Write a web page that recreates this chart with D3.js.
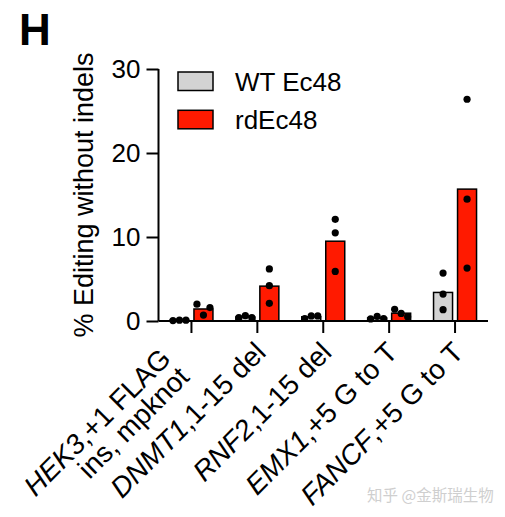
<!DOCTYPE html>
<html><head><meta charset="utf-8">
<script src="https://cdn.jsdelivr.net/npm/d3@7"></script>
<style>
html,body{margin:0;padding:0;background:#fff;}
svg{display:block;font-family:"Liberation Sans",Arial,sans-serif;}
</style></head>
<body><svg id="c" width="505" height="517"></svg>
<script>
// ---- data ----
const categories = ["HEK3", "DNMT1", "RNF2", "EMX1", "FANCF"];
const labelGene = ["HEK3", "DNMT1", "RNF2", "EMX1", "FANCF"];
const labelRest = [",+1 FLAG", ",1-15 del", ",1-15 del", ",+5 G to T", ",+5 G to T"];
const labelLine2 = ["ins, mpknot", "", "", "", ""];
const seriesNames = ["WT Ec48", "rdEc48"];
const wtMeans = [0.08, 0.48, 0.5, 0.37, 3.4];
const rdMeans = [1.43, 4.15, 9.5, 0.93, 15.7];
const wtReps = [[0.05, 0.1, 0.1], [0.4, 0.63, 0.4], [0.3, 0.6, 0.6], [0.25, 0.55, 0.3], [5.7, 3.2, 1.35]];
const rdReps = [[2.0, 0.7, 1.6], [6.2, 4.2, 2.1], [12.1, 10.5, 5.9], [1.4, 0.9, 0.5], [26.4, 14.5, 6.3]];
const yTicks = [0, 10, 20, 30];
const colors = ["#d3d3d3", "#ff1a00"];

// ---- layout ----
const svg = d3.select("#c");
const pLeft = 158.5, pRight = 488, pTop = 69, pBottom = 321;
const x = d3.scaleBand().domain(categories).range([pLeft, pRight]).padding(0);
const xi = d3.scaleBand().domain(seriesNames).range([-21.5, 21.5]).paddingInner(5/24).paddingOuter(0);
const y = d3.scaleLinear().domain([0, 30]).range([pBottom, pTop]);
const color = d3.scaleOrdinal().domain(seriesNames).range(colors);

const means = [wtMeans, rdMeans];
const reps = [wtReps, rdReps];

// bars
categories.forEach((c, i) => {
  seriesNames.forEach((s, k) => {
    const cx = x(c) + x.bandwidth() / 2;
    svg.append("rect")
      .attr("x", cx + xi(s))
      .attr("y", y(means[k][i]))
      .attr("width", xi.bandwidth())
      .attr("height", y(0) - y(means[k][i]))
      .attr("fill", color(s))
      .attr("stroke", "#000")
      .attr("stroke-width", 1.5);
  });
});

// dots
const r = 3.6, spread = 6.5;
categories.forEach((c, i) => {
  seriesNames.forEach((s, k) => {
    const cx = x(c) + x.bandwidth() / 2 + xi(s) + xi.bandwidth() / 2;
    const vals = reps[k][i];
    const py = vals.map(v => y(v));
    let overlap = false;
    for (let a = 0; a < py.length; a++) for (let b = a + 1; b < py.length; b++)
      if (Math.abs(py[a] - py[b]) < 2 * r) overlap = true;
    vals.forEach((v, j) => {
      svg.append("circle")
        .attr("cx", cx + (overlap ? (j - 1) * spread : 0))
        .attr("cy", y(v))
        .attr("r", r)
        .attr("fill", "#000");
    });
  });
});

// y axis
const yAxis = svg.append("g").attr("transform", `translate(${pLeft},0)`)
  .call(d3.axisLeft(y).tickValues(yTicks).tickSize(12).tickPadding(6).tickFormat(d3.format("d")));
yAxis.select(".domain").attr("stroke-width", 2).attr("d", `M0,${pTop}V${pBottom}`);
yAxis.selectAll(".tick line").attr("stroke-width", 2);
yAxis.selectAll(".tick text").attr("font-size", 26).attr("fill", "#000")
  .attr("font-family", "Liberation Sans, Arial, sans-serif");

// x axis
const xAxis = svg.append("g").attr("transform", `translate(0,${pBottom})`)
  .call(d3.axisBottom(x).tickSize(12).tickFormat(""));
xAxis.select(".domain").attr("stroke-width", 2).attr("d", `M${pLeft},0H${pRight}`);
xAxis.selectAll(".tick line").attr("stroke-width", 2);

// x labels
categories.forEach((c, i) => {
  const cx = x(c) + x.bandwidth() / 2;
  const g = svg.append("g").attr("transform", `translate(${cx + 10},${pBottom + 33}) rotate(-45)`);
  const two = labelLine2[i] !== "";
  const t = g.append("text").attr("text-anchor", "end").attr("font-size", 28).attr("fill", "#000")
    .attr("x", two ? -25 : 0).attr("y", two ? -16 : 0);
  t.append("tspan").attr("font-style", "italic").text(labelGene[i]);
  t.append("tspan").text(labelRest[i]);
  if (two) {
    g.append("text").attr("text-anchor", "end").attr("font-size", 28).attr("fill", "#000")
      .attr("x", -25).attr("y", 10).text(labelLine2[i]);
  }
});

// y title
svg.append("text").attr("transform", `translate(93,${(pTop + pBottom) / 2}) rotate(-90)`)
  .attr("text-anchor", "middle").attr("font-size", 27).attr("fill", "#000")
  .text("% Editing without indels");

// panel letter
svg.append("text").attr("x", 19).attr("y", 45).attr("font-size", 44).attr("font-weight", "bold")
  .attr("fill", "#000").text("H");

// legend
const leg = svg.append("g");
seriesNames.forEach((s, k) => {
  const ly = 72 + k * 38.3;
  leg.append("rect").attr("x", 178).attr("y", ly).attr("width", 35).attr("height", 18.5)
    .attr("fill", color(s)).attr("stroke", "#000").attr("stroke-width", 1.5);
  leg.append("text").attr("x", 235).attr("y", ly + 9.5).attr("dy", "0.36em")
    .attr("font-size", 26).attr("fill", "#000").text(s);
});

// watermark
svg.append("text").attr("x", 367).attr("y", 501).attr("font-size", 15.5)
  .attr("font-family", "Noto Sans CJK SC, sans-serif").attr("fill", "#cfcfcf")
  .text("知乎 @金斯瑞生物");
</script></body></html>
